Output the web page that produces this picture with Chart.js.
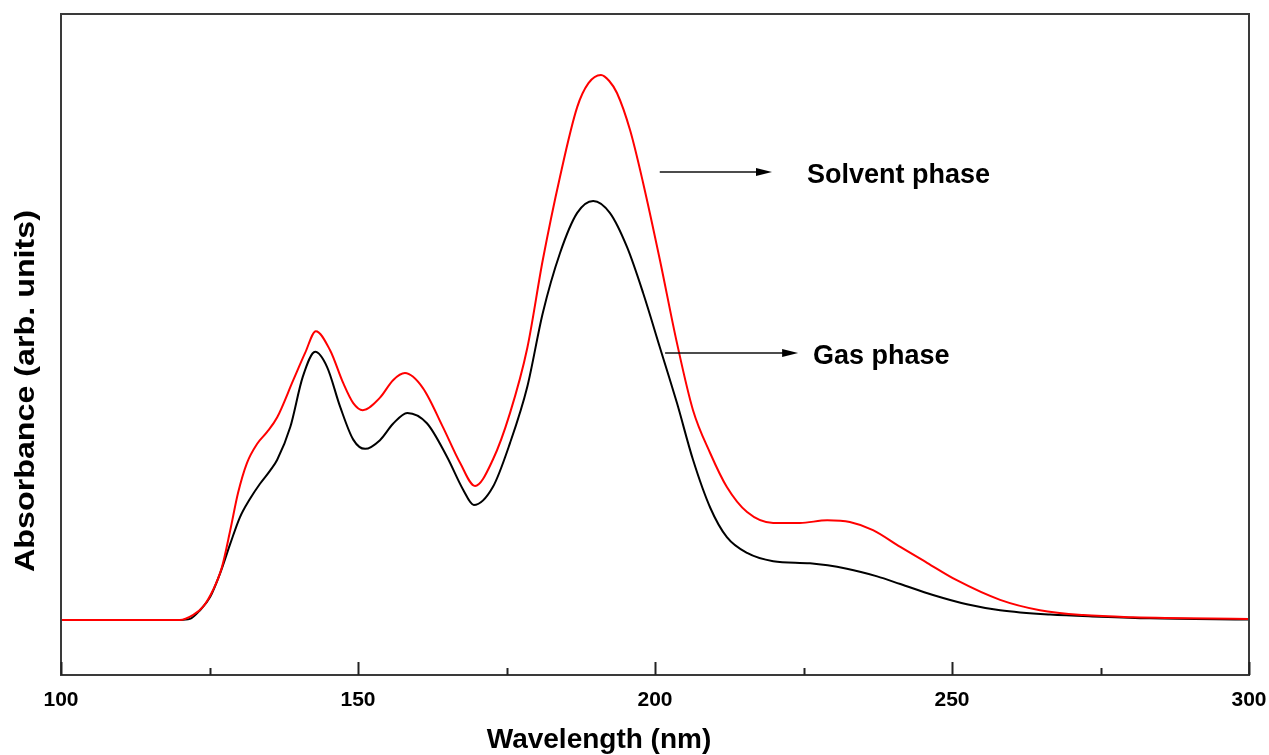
<!DOCTYPE html>
<html>
<head>
<meta charset="utf-8">
<script src="https://cdn.jsdelivr.net/npm/chart.js@4/dist/chart.umd.min.js"></script>
<style>
  html, body { margin: 0; padding: 0; background: #ffffff; }
  #wrap { width: 1269px; height: 755px; }
</style>
</head>
<body>
<div id="wrap"><canvas id="c" width="1269" height="755"></canvas></div>
<script>
// ---- data ----
const gasNm = [100, 115, 120, 121.7, 123.4, 125.1, 126.8, 128.5, 130.1, 131.8, 133.5, 135.2, 136.4, 138.6, 140.7, 142.8, 144.8, 147.0, 149.2, 151.2, 153.7, 155.9, 158.3, 161.6, 165.0, 167.7, 169.5, 172.7, 175.6, 178.5, 181.1, 184.0, 186.9, 189.6, 192.4, 195.3, 198.0, 200.8, 203.7, 206.4, 209.3, 212.1, 215.5, 219.9, 226.1, 232.3, 237.4, 241.3, 246.8, 252.5, 258.1, 266.5, 274.9, 283.3, 300];
const gasAbs = [0, 0, 0, 0.002, 0.018, 0.042, 0.086, 0.140, 0.188, 0.222, 0.250, 0.274, 0.294, 0.354, 0.446, 0.492, 0.464, 0.391, 0.331, 0.314, 0.330, 0.360, 0.380, 0.361, 0.299, 0.239, 0.211, 0.244, 0.325, 0.428, 0.563, 0.673, 0.747, 0.769, 0.747, 0.684, 0.600, 0.501, 0.398, 0.294, 0.206, 0.152, 0.123, 0.108, 0.104, 0.094, 0.080, 0.066, 0.046, 0.029, 0.018, 0.010, 0.006, 0.003, 0.001];
const solventNm = [100, 115, 120, 122.2, 123.9, 125.6, 127.1, 128.5, 129.8, 131.3, 133.0, 134.7, 136.4, 139.1, 141.1, 142.9, 145.3, 147.5, 149.2, 150.8, 153.7, 155.9, 157.9, 160.9, 164.3, 167.2, 169.7, 172.7, 175.6, 178.5, 181.1, 184.0, 186.9, 188.8, 190.9, 192.3, 193.6, 195.8, 198.0, 200.8, 203.7, 206.4, 209.3, 212.1, 215.5, 219.9, 224.4, 229.0, 232.8, 236.7, 241.3, 245.8, 250.8, 258.1, 264.8, 272.1, 280.5, 300];
const solventAbs = [0, 0, 0, 0.009, 0.024, 0.055, 0.097, 0.165, 0.233, 0.288, 0.323, 0.345, 0.372, 0.440, 0.490, 0.530, 0.495, 0.435, 0.398, 0.385, 0.408, 0.440, 0.453, 0.426, 0.354, 0.288, 0.246, 0.294, 0.380, 0.499, 0.660, 0.813, 0.941, 0.985, 1.000, 0.989, 0.967, 0.899, 0.802, 0.662, 0.508, 0.385, 0.306, 0.244, 0.198, 0.178, 0.178, 0.183, 0.180, 0.165, 0.134, 0.105, 0.073, 0.037, 0.018, 0.009, 0.005, 0.002];
const majorTicks = [100, 150, 200, 250, 300];
const minorTicks = [125, 175, 225, 275];
const seriesNames = ['Solvent phase', 'Gas phase'];

const toPoints = (xs, ys) => xs.map((x, i) => ({ x: x, y: ys[i] }));

// annotation layout (in data units)
const notes = [
  { text: seriesNames[0], x0: 200.8, x1: 219.7, y: 0.822, tx: 225.6 },
  { text: seriesNames[1], x0: 201.7, x1: 224.1, y: 0.490, tx: 226.6 }
];

const FONT = '"Liberation Sans", Arial, sans-serif';

const decor = {
  id: 'decor',
  afterDraw(chart) {
    const ctx = chart.ctx;
    const a = chart.chartArea;
    const xs = chart.scales.x, ys = chart.scales.y;
    ctx.save();
    // frame
    ctx.strokeStyle = '#3a3a3a';
    ctx.lineWidth = 2;
    ctx.strokeRect(a.left, a.top, a.right - a.left, a.bottom - a.top);
    // inward ticks
    ctx.strokeStyle = '#222';
    ctx.lineWidth = 2;
    majorTicks.forEach(v => {
      const px = Math.round(xs.getPixelForValue(v)) + 0.5;
      ctx.beginPath(); ctx.moveTo(px, a.bottom); ctx.lineTo(px, a.bottom - 13); ctx.stroke();
    });
    minorTicks.forEach(v => {
      const px = Math.round(xs.getPixelForValue(v)) + 0.5;
      ctx.beginPath(); ctx.moveTo(px, a.bottom); ctx.lineTo(px, a.bottom - 7); ctx.stroke();
    });
    // arrows and labels
    ctx.fillStyle = '#000';
    ctx.strokeStyle = '#111';
    notes.forEach(n => {
      const x0 = xs.getPixelForValue(n.x0), x1 = xs.getPixelForValue(n.x1);
      const y = ys.getPixelForValue(n.y);
      ctx.lineWidth = 1.5;
      ctx.beginPath(); ctx.moveTo(x0, y); ctx.lineTo(x1 - 12, y); ctx.stroke();
      ctx.beginPath();
      ctx.moveTo(x1, y); ctx.lineTo(x1 - 16, y - 4); ctx.lineTo(x1 - 16, y + 4); ctx.closePath();
      ctx.fill();
      ctx.font = 'bold 27px ' + FONT;
      ctx.textBaseline = 'alphabetic';
      ctx.textAlign = 'left';
      ctx.fillText(n.text, xs.getPixelForValue(n.tx), y + 11);
    });
    // axis titles
    ctx.font = 'bold 28px ' + FONT;
    ctx.textAlign = 'center';
    ctx.textBaseline = 'alphabetic';
    ctx.fillText('Wavelength (nm)', 599, 748);
    ctx.save();
    ctx.translate(34, 391);
    ctx.rotate(-Math.PI / 2);
    ctx.font = 'bold 28px ' + FONT;
    const w = ctx.measureText('Absorbance (arb. units)').width;
    ctx.scale(362 / w, 1);
    ctx.fillText('Absorbance (arb. units)', 0, 0);
    ctx.restore();
    ctx.restore();
  }
};

new Chart(document.getElementById('c'), {
  type: 'line',
  data: {
    datasets: [
      { label: seriesNames[0], data: toPoints(solventNm, solventAbs), borderColor: '#ff0000', borderWidth: 2, pointRadius: 0, cubicInterpolationMode: 'monotone', fill: false },
      { label: seriesNames[1], data: toPoints(gasNm, gasAbs), borderColor: '#000000', borderWidth: 2, pointRadius: 0, cubicInterpolationMode: 'monotone', fill: false }
    ]
  },
  options: {
    responsive: false,
    animation: false,
    events: [],
    layout: { padding: { left: 61, top: 14, right: 20, bottom: 0 } },
    plugins: { legend: { display: false }, tooltip: { enabled: false }, title: { display: false } },
    scales: {
      x: {
        type: 'linear', min: 100, max: 300,
        afterFit(s) { s.height = 80; s.paddingLeft = 0; s.paddingRight = 0; },
        afterBuildTicks(s) { s.ticks = majorTicks.map(v => ({ value: v })); },
        grid: { display: false, drawTicks: false },
        border: { display: false },
        ticks: { color: '#000', padding: 13, maxRotation: 0, autoSkip: false, font: { family: FONT, size: 21, weight: 'bold' } }
      },
      y: {
        display: false, min: -0.1009, max: 1.1119
      }
    }
  },
  plugins: [decor]
});
</script>
</body>
</html>
